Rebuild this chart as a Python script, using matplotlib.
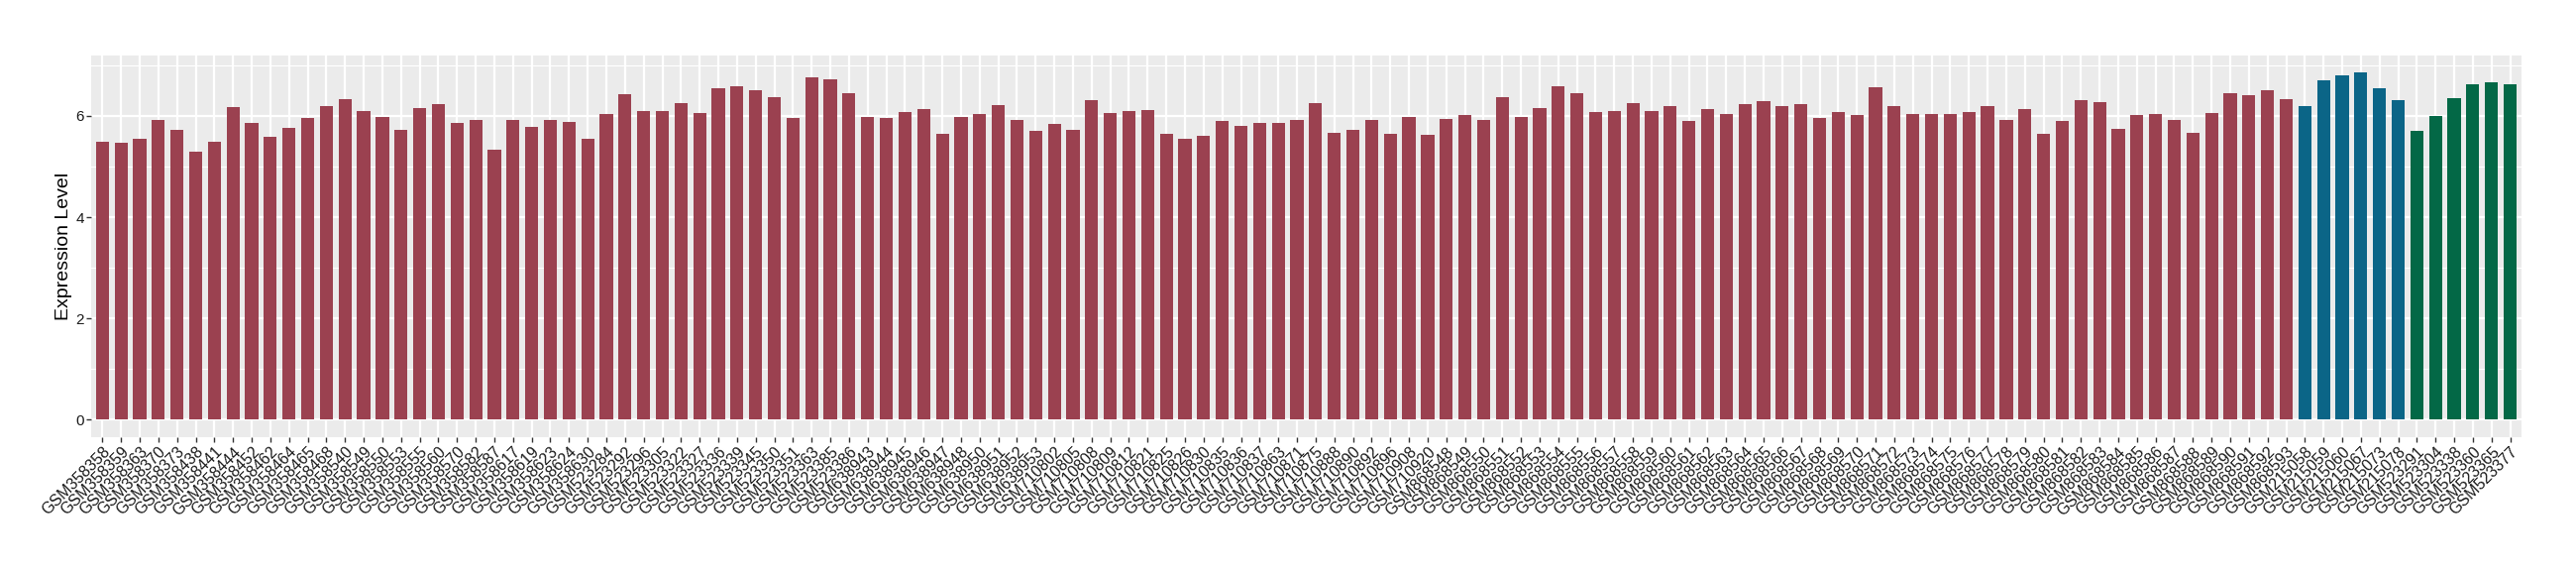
import matplotlib
matplotlib.use("Agg")
import matplotlib.pyplot as plt
from matplotlib.ticker import MultipleLocator
from matplotlib.transforms import ScaledTranslation

# red group
red_samples = [
    "GSM358358", "GSM358359", "GSM358363", "GSM358370", "GSM358373", "GSM358438",
    "GSM358441", "GSM358444", "GSM358452", "GSM358462", "GSM358464", "GSM358465",
    "GSM358468", "GSM358540", "GSM358549", "GSM358550", "GSM358553", "GSM358555",
    "GSM358560", "GSM358570", "GSM358582", "GSM358587", "GSM358617", "GSM358619",
    "GSM358623", "GSM358624", "GSM358630", "GSM523284", "GSM523292", "GSM523296",
    "GSM523305", "GSM523322", "GSM523327", "GSM523336", "GSM523339", "GSM523345",
    "GSM523350", "GSM523351", "GSM523363", "GSM523385", "GSM523386", "GSM638943",
    "GSM638944", "GSM638945", "GSM638946", "GSM638947", "GSM638948", "GSM638950",
    "GSM638951", "GSM638952", "GSM638953", "GSM710802", "GSM710805", "GSM710808",
    "GSM710809", "GSM710812", "GSM710821", "GSM710825", "GSM710826", "GSM710830",
    "GSM710835", "GSM710836", "GSM710837", "GSM710863", "GSM710871", "GSM710875",
    "GSM710888", "GSM710890", "GSM710892", "GSM710896", "GSM710908", "GSM710920",
    "GSM868548", "GSM868549", "GSM868550", "GSM868551", "GSM868552", "GSM868553",
    "GSM868554", "GSM868555", "GSM868556", "GSM868557", "GSM868558", "GSM868559",
    "GSM868560", "GSM868561", "GSM868562", "GSM868563", "GSM868564", "GSM868565",
    "GSM868566", "GSM868567", "GSM868568", "GSM868569", "GSM868570", "GSM868571",
    "GSM868572", "GSM868573", "GSM868574", "GSM868575", "GSM868576", "GSM868577",
    "GSM868578", "GSM868579", "GSM868580", "GSM868581", "GSM868582", "GSM868583",
    "GSM868584", "GSM868585", "GSM868586", "GSM868587", "GSM868588", "GSM868589",
    "GSM868590", "GSM868591", "GSM868592", "GSM868593",
]
red_values = [
    5.49, 5.47, 5.55, 5.93, 5.73, 5.29, 5.49, 6.18, 5.86, 5.59, 5.77, 5.96,
    6.19, 6.33, 6.09, 5.99, 5.72, 6.15, 6.23, 5.86, 5.92, 5.33, 5.93, 5.78,
    5.93, 5.88, 5.54, 6.03, 6.44, 6.09, 6.09, 6.25, 6.05, 6.54, 6.58, 6.50,
    6.37, 5.96, 6.76, 6.73, 6.45, 5.99, 5.97, 6.07, 6.13, 5.64, 5.99, 6.03,
    6.21, 5.92, 5.70, 5.84, 5.72, 6.31, 6.05, 6.09, 6.11, 5.64, 5.54, 5.60,
    5.90, 5.80, 5.86, 5.86, 5.93, 6.25, 5.66, 5.72, 5.92, 5.64, 5.99, 5.62,
    5.95, 6.01, 5.93, 6.37, 5.99, 6.15, 6.58, 6.46, 6.07, 6.09, 6.25, 6.09,
    6.19, 5.90, 6.13, 6.03, 6.23, 6.29, 6.19, 6.23, 5.97, 6.07, 6.01, 6.56,
    6.19, 6.03, 6.03, 6.03, 6.07, 6.19, 5.92, 6.13, 5.64, 5.90, 6.31, 6.27,
    5.74, 6.01, 6.03, 5.92, 5.67, 6.06, 6.45, 6.42, 6.51, 6.34,
]

# blue group
blue_samples = ["GSM215058", "GSM215059", "GSM215060", "GSM215067", "GSM215073", "GSM215078"]
blue_values = [6.20, 6.71, 6.81, 6.86, 6.55, 6.32]

# green group
green_samples = ["GSM523291", "GSM523304", "GSM523338", "GSM523360", "GSM523365", "GSM523377"]
green_values = [5.70, 6.00, 6.35, 6.63, 6.67, 6.63]

colors = {"red": "#9B4150", "blue": "#0B6587", "green": "#036846"}

plt.rcParams["font.family"] = ["Liberation Sans", "DejaVu Sans"]

fig = plt.figure(figsize=(26, 5.8), dpi=100)
ax = fig.add_axes([0.0354, 0.2405, 0.9434, 0.6633])

samples = red_samples + blue_samples + green_samples
values = red_values + blue_values + green_values
bar_colors = ([colors["red"]] * len(red_samples) + [colors["blue"]] * len(blue_samples)
              + [colors["green"]] * len(green_samples))

x = list(range(len(samples)))
ax.bar(x, values, width=0.7, color=bar_colors, zorder=3)

# ggplot-like panel
ax.set_facecolor("#EBEBEB")
for side in ax.spines.values():
    side.set_visible(False)
ax.yaxis.set_major_locator(MultipleLocator(2))
ax.yaxis.set_minor_locator(MultipleLocator(1))
ax.grid(which="major", color="white", linewidth=1.6, zorder=0)
ax.grid(which="minor", axis="y", color="white", linewidth=0.8, zorder=0)
ax.set_axisbelow(True)

ax.set_xlim(-0.6, len(samples) - 0.4)
ax.set_ylim(-0.343, 7.2)

ax.set_xticks(x)
ax.set_xticklabels(samples, rotation=45, ha="right", rotation_mode="anchor",
                   fontsize=11.5, color="#1a1a1a")
shift = ScaledTranslation(4 / 100, 0, fig.dpi_scale_trans)
for lab in ax.get_xticklabels():
    lab.set_transform(lab.get_transform() + shift)
ax.tick_params(axis="x", length=3.5, width=1, color="#333333", pad=2)
ax.tick_params(axis="y", which="major", length=3.5, width=1, color="#333333",
               labelsize=11, labelcolor="#1a1a1a", pad=1.5)
ax.tick_params(axis="y", which="minor", length=0)

ax.set_ylabel("Expression Level", fontsize=14)
ax.yaxis.set_label_coords(-0.0077, 0.5)

fig.savefig("out.png", dpi=100)
